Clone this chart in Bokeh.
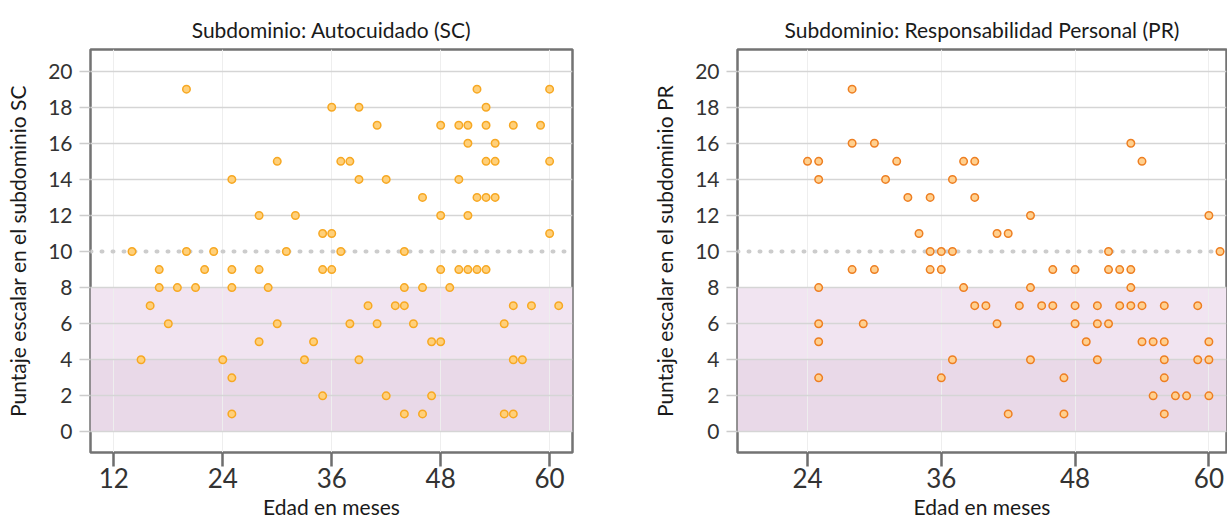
from bokeh.plotting import figure
from bokeh.layouts import row
from bokeh.models import Range1d, FixedTicker, BoxAnnotation, Span
from bokeh.embed import file_html
from bokeh.resources import INLINE

# ---------------- data ----------------
sc_age = [20, 52, 60,
          36, 39, 53,
          41, 48, 50, 51, 53, 56, 59,
          51, 54,
          30, 37, 38, 53, 54, 60,
          25, 39, 42, 50,
          46, 52, 53, 54,
          28, 32, 48, 51,
          35, 36, 60,
          14, 20, 23, 31, 37, 44,
          17, 22, 25, 28, 35, 36, 48, 50, 51, 52, 53,
          17, 19, 21, 25, 29, 44, 46, 49,
          16, 40, 43, 44, 56, 58, 61,
          18, 30, 38, 41, 45, 55,
          28, 34, 47, 48,
          15, 24, 33, 39, 56, 57,
          25,
          35, 42, 47,
          25, 44, 46, 55, 56]
sc_score = [19, 19, 19,
            18, 18, 18,
            17, 17, 17, 17, 17, 17, 17,
            16, 16,
            15, 15, 15, 15, 15, 15,
            14, 14, 14, 14,
            13, 13, 13, 13,
            12, 12, 12, 12,
            11, 11, 11,
            10, 10, 10, 10, 10, 10,
            9, 9, 9, 9, 9, 9, 9, 9, 9, 9, 9,
            8, 8, 8, 8, 8, 8, 8, 8,
            7, 7, 7, 7, 7, 7, 7,
            6, 6, 6, 6, 6, 6,
            5, 5, 5, 5,
            4, 4, 4, 4, 4, 4,
            3,
            2, 2, 2,
            1, 1, 1, 1, 1]

pr_age = [28,
          28, 30, 53,
          24, 25, 32, 38, 39, 54,
          25, 31, 37,
          33, 35, 39,
          44, 60,
          34, 41, 42,
          35, 36, 37, 51, 61,
          28, 30, 35, 36, 46, 48, 51, 52, 53,
          25, 38, 44, 53,
          39, 40, 43, 45, 46, 48, 50, 52, 53, 54, 56, 59,
          25, 29, 41, 48, 50, 51,
          25, 49, 54, 55, 56, 60,
          37, 44, 50, 56, 59, 60,
          25, 36, 47, 56,
          55, 57, 58, 60,
          42, 47, 56]
pr_score = [19,
            16, 16, 16,
            15, 15, 15, 15, 15, 15,
            14, 14, 14,
            13, 13, 13,
            12, 12,
            11, 11, 11,
            10, 10, 10, 10, 10,
            9, 9, 9, 9, 9, 9, 9, 9, 9,
            8, 8, 8, 8,
            7, 7, 7, 7, 7, 7, 7, 7, 7, 7, 7, 7,
            6, 6, 6, 6, 6, 6,
            5, 5, 5, 5, 5, 5,
            4, 4, 4, 4, 4, 4,
            3, 3, 3, 3,
            2, 2, 2, 2,
            1, 1, 1]

sc_xticks = [12, 24, 36, 48, 60]
pr_xticks = [24, 36, 48, 60]
y_ticks = [0, 2, 4, 6, 8, 10, 12, 14, 16, 18, 20]
threshold = 10
band_low = (0, 4)
band_mid = (4, 8)

FONT = "Lato"


def panel(ages, scores, xticks, xr, title, ylabel, width, mb_left, mb_right,
          fill, line):
    p = figure(width=width, height=522, output_backend="svg",
               toolbar_location=None, x_range=Range1d(*xr),
               y_range=Range1d(-1.14, 21.2),
               min_border_left=mb_left, min_border_right=mb_right,
               min_border_top=49, min_border_bottom=70,
               background_fill_color="white", border_fill_color="white")
    p.outline_line_color = "#737373"
    p.outline_line_width = 2.5

    # bands
    p.add_layout(BoxAnnotation(bottom=band_low[0], top=band_low[1],
                               fill_color="#E9D9E8", fill_alpha=1,
                               line_color=None, level="image"))
    p.add_layout(BoxAnnotation(bottom=band_mid[0], top=band_mid[1],
                               fill_color="#F1E4F1", fill_alpha=1,
                               line_color=None, level="image"))

    # grids
    p.ygrid.ticker = FixedTicker(ticks=[t for t in y_ticks if t != threshold])
    p.ygrid.grid_line_color = "#D5D5D5"
    p.ygrid.grid_line_width = 1.5
    p.xgrid.ticker = FixedTicker(ticks=xticks)
    p.xgrid.grid_line_color = "#EEEEEE"
    p.xgrid.grid_line_width = 1

    p.add_layout(Span(location=threshold, dimension="width",
                      line_color="#CCCCCC", line_width=4,
                      line_dash="1 10", line_cap="round", level="underlay"))

    p.scatter(ages, scores, size=7.5, fill_color=fill, line_color=line,
              line_width=1.5)

    # title
    p.title.text = title
    p.title.align = "center"
    p.title.text_font = FONT
    p.title.text_font_size = "21px"
    p.title.text_font_style = "normal"
    p.title.text_color = "#1a1a1a"
    p.title.standoff = 15

    # x axis
    xa = p.xaxis[0]
    xa.ticker = FixedTicker(ticks=xticks)
    xa.axis_line_color = None
    xa.major_tick_line_color = "#6E6E6E"
    xa.major_tick_line_width = 2.5
    xa.major_tick_out = 14
    xa.major_tick_in = 0
    xa.minor_tick_line_color = None
    xa.major_label_text_font = FONT
    xa.major_label_text_font_size = "26px"
    xa.major_label_text_color = "#333333"
    xa.major_label_standoff = 1
    xa.axis_label = "Edad en meses"
    xa.axis_label_text_font = FONT
    xa.axis_label_text_font_size = "21px"
    xa.axis_label_text_font_style = "normal"
    xa.axis_label_text_color = "#1a1a1a"
    xa.axis_label_standoff = 3

    # y axis
    ya = p.yaxis[0]
    ya.ticker = FixedTicker(ticks=y_ticks)
    ya.axis_line_color = None
    ya.major_tick_line_color = "#CCCCCC"
    ya.major_tick_line_width = 1.5
    ya.major_tick_out = 11
    ya.major_tick_in = 0
    ya.minor_tick_line_color = None
    ya.major_label_text_font = FONT
    ya.major_label_text_font_size = "21px"
    ya.major_label_text_color = "#333333"
    ya.major_label_standoff = 7
    ya.axis_label = ylabel
    ya.axis_label_text_font = FONT
    ya.axis_label_text_font_size = "21px"
    ya.axis_label_text_font_style = "normal"
    ya.axis_label_text_color = "#1a1a1a"
    ya.axis_label_standoff = 15
    return p


p1 = panel(sc_age, sc_score, sc_xticks, (9.43, 62.52),
           "Subdominio: Autocuidado (SC)",
           "Puntaje escalar en el subdominio SC",
           620, 90, 48, "#FFD07A", "#F7A823")
p2 = panel(pr_age, pr_score, pr_xticks, (17.72, 61.58),
           "Subdominio: Responsabilidad Personal (PR)",
           "Puntaje escalar en el subdominio PR",
           607, 117, 1, "#FFD08F", "#EE7F22")

layout = row(p1, p2)
open("out.html", "w").write(file_html(layout, INLINE))
